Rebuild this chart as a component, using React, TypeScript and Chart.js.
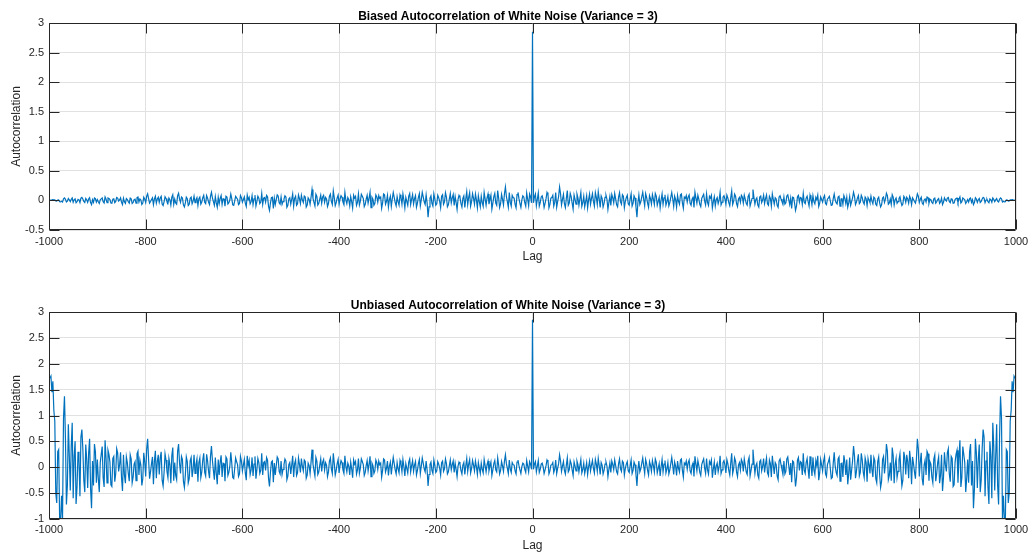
import React, { useEffect, useRef } from "react";
import { Chart, registerables } from "chart.js";

Chart.register(...registerables);

const FONT = "'Liberation Sans', Arial, Helvetica, sans-serif";
const TEXT = "#262626";
const LINE = "#0072BD";
const GRID = "#e1e1e1";

// Lags are sampled every 2; the autocorrelation is symmetric, so only lags >= 0 are listed.
const lagStep = 2;

// Unbiased autocorrelation, lags 0, 2, 4, ..., 998
const unbiasedHalf = [
  2.85, -0.04, 0.06, 0.11, -0.09, 0.02, 0.13, -0.10, -0.04, 0.06, 0.08, 0.01, -0.12, -0.05, 0.03, 0.14, 0.10, -0.13, -0.07, 0.04,
  0.05, 0.09, -0.10, -0.03, 0.14, -0.12, -0.02, 0.07, 0.24, 0.12, -0.08, 0.02, 0.11, -0.06, -0.13, 0.04, 0.18, -0.09, -0.05, 0.13,
  0.07, -0.05, -0.16, 0.10, 0.02, -0.07, 0.12, 0.05, -0.09, 0.03, 0.15, -0.11, -0.04, 0.08, -0.12, -0.02, 0.09, -0.14, 0.01, 0.12,
  -0.07, 0.04, 0.13, -0.02, -0.11, 0.15, 0.06, -0.08, 0.17, 0.03, -0.14, 0.09, 0.04, -0.13, -0.06, 0.06, 0.10, 0.02, -0.18, -0.04,
  0.08, -0.10, 0.12, 0.05, -0.05, 0.14, 0.03, -0.09, -0.13, 0.07, 0.16, -0.03, -0.08, 0.12, 0.09, -0.15, -0.02, 0.06, 0.11, -0.07,
  -0.10, 0.03, 0.14, -0.12, -0.06, 0.10, 0.05, -0.14, -0.36, -0.05, 0.12, -0.09, -0.03, 0.08, 0.18, 0.02, -0.12, 0.15, 0.07, -0.06,
  -0.15, 0.11, 0.04, -0.08, 0.13, 0.03, -0.09, 0.16, 0.10, -0.11, -0.02, 0.07, -0.17, 0.01, 0.15, -0.09, 0.06, 0.13, -0.11, -0.03,
  0.09, -0.13, -0.05, 0.07, 0.19, 0.04, -0.14, 0.10, 0.02, -0.16, 0.12, -0.02, -0.09, 0.14, 0.16, -0.06, -0.19, 0.08, 0.05, 0.12,
  -0.04, 0.09, 0.14, -0.07, -0.12, 0.03, 0.08, -0.18, 0.21, 0.06, -0.07, 0.13, 0.03, -0.10, -0.16, 0.05, 0.11, 0.16, -0.02, -0.12,
  0.17, -0.05, -0.13, 0.11, 0.06, 0.14, -0.20, -0.03, 0.10, -0.15, 0.02, 0.08, -0.09, 0.01, 0.22, -0.12, -0.05, 0.09, 0.13, 0.04,
  -0.11, 0.15, 0.07, -0.06, -0.15, 0.08, 0.27, -0.12, -0.03, 0.18, 0.12, -0.09, -0.18, 0.04, 0.09, -0.05, 0.15, 0.10, -0.08, 0.16,
  0.04, -0.09, -0.14, 0.12, 0.19, -0.17, -0.06, 0.06, 0.34, 0.10, -0.12, 0.03, 0.08, -0.15, -0.21, 0.11, 0.14, -0.07, 0.02, 0.17,
  -0.10, 0.06, 0.18, -0.11, -0.16, 0.14, 0.07, -0.19, 0.22, 0.04, -0.13, 0.09, 0.05, -0.17, -0.24, 0.12, 0.16, 0.05, -0.04, -0.14,
  0.12, -0.13, -0.08, 0.16, 0.20, 0.03, -0.15, 0.08, -0.29, 0.12, 0.10, -0.10, -0.37, -0.21, 0.14, 0.19, -0.06, 0.11, 0.09, -0.15,
  0.27, -0.06, -0.12, 0.09, 0.17, -0.04, -0.22, 0.21, 0.06, -0.17, 0.19, -0.05, -0.14, 0.13, 0.03, 0.22, -0.25, -0.11, 0.15, 0.04,
  -0.07, 0.12, 0.21, -0.13, -0.18, 0.05, 0.11, 0.18, -0.03, -0.22, -0.20, 0.08, 0.29, 0.02, -0.10, -0.16, 0.16, 0.20, -0.27, 0.07,
  0.08, -0.19, 0.23, 0.10, -0.15, 0.15, -0.33, -0.12, 0.19, -0.24, -0.06, 0.13, 0.41, 0.21, -0.21, -0.08, 0.12, 0.25, -0.17, -0.10,
  0.27, 0.14, -0.09, -0.20, 0.18, 0.09, -0.28, 0.16, 0.05, -0.12, 0.24, -0.04, -0.19, 0.19, 0.13, -0.22, -0.30, 0.11, 0.20, -0.15,
  -0.39, -0.27, 0.15, 0.21, -0.12, 0.08, 0.45, 0.31, -0.24, -0.16, 0.09, -0.26, 0.38, 0.22, -0.31, 0.05, 0.17, -0.20, -0.08, 0.14,
  0.26, -0.10, -0.36, -0.25, 0.30, 0.18, -0.14, 0.24, 0.11, -0.21, 0.32, 0.12, -0.33, 0.20, 0.07, -0.09, -0.22, 0.15, 0.55, 0.35,
  -0.18, 0.10, 0.28, -0.22, -0.35, 0.04, 0.14, -0.15, 0.31, 0.26, -0.26, 0.11, 0.06, -0.19, -0.30, 0.16, 0.24, -0.27, -0.12, 0.09,
  0.20, -0.31, -0.15, 0.24, -0.46, -0.20, 0.29, 0.05, -0.08, 0.28, 0.36, -0.12, -0.28, 0.21, 0.17, -0.37, -0.34, 0.10, 0.25, 0.33,
  -0.30, 0.18, 0.52, -0.38, -0.20, 0.40, 0.25, 0.09, -0.48, -0.22, 0.15, -0.30, 0.30, 0.45, -0.35, 0.12, -0.79, -0.42, 0.55, 0.28,
  -0.40, 0.15, 0.44, -0.48, -0.25, 0.36, 0.73, 0.58, -0.56, 0.12, 0.30, -0.38, -0.71, 0.50, 0.20, -0.60, 0.86, 0.41, -0.45, 0.22,
  0.83, -0.35, -0.72, 0.57, 1.37, 0.95, -0.98, -0.55, -1.05, -1.02, 0.34, 0.30, -0.69, -0.50, 0.89, 1.10, 1.66, 1.45, 1.76, 1.72,
];

// Biased autocorrelation, lags 0, 2, 4, ..., 998
const biasedHalf = [
  2.85, -0.040, 0.060, 0.109, -0.089, 0.020, 0.128, -0.099, -0.039, 0.059, 0.078, 0.010, -0.117, -0.049, 0.029, 0.136, 0.097, -0.126, -0.067, 0.038,
  0.048, 0.086, -0.096, -0.029, 0.133, -0.114, -0.019, 0.066, 0.227, 0.113, -0.075, 0.019, 0.103, -0.056, -0.121, 0.037, 0.167, -0.083, -0.046, 0.120,
  0.064, -0.046, -0.147, 0.091, 0.018, -0.064, 0.109, 0.045, -0.081, 0.027, 0.135, -0.099, -0.036, 0.072, -0.107, -0.018, 0.080, -0.124, 0.009, 0.106,
  -0.062, 0.035, 0.114, -0.017, -0.096, 0.131, 0.052, -0.069, 0.147, 0.026, -0.120, 0.077, 0.034, -0.111, -0.051, 0.051, 0.085, 0.017, -0.152, -0.034,
  0.067, -0.084, 0.100, 0.042, -0.042, 0.116, 0.025, -0.074, -0.107, 0.058, 0.131, -0.025, -0.065, 0.098, 0.073, -0.122, -0.016, 0.048, 0.088, -0.056,
  -0.080, 0.024, 0.111, -0.095, -0.048, 0.079, 0.039, -0.110, -0.282, -0.039, 0.094, -0.070, -0.023, 0.062, 0.139, 0.015, -0.092, 0.115, 0.053, -0.046,
  -0.114, 0.083, 0.030, -0.060, 0.098, 0.023, -0.067, 0.119, 0.074, -0.082, -0.015, 0.052, -0.125, 0.007, 0.110, -0.066, 0.044, 0.094, -0.080, -0.022,
  0.065, -0.093, -0.036, 0.050, 0.135, 0.028, -0.099, 0.071, 0.014, -0.112, 0.084, -0.014, -0.063, 0.097, 0.111, -0.041, -0.131, 0.055, 0.034, 0.082,
  -0.027, 0.061, 0.095, -0.047, -0.081, 0.020, 0.053, -0.120, 0.139, 0.040, -0.046, 0.086, 0.020, -0.065, -0.104, 0.033, 0.071, 0.103, -0.013, -0.077,
  0.109, -0.032, -0.083, 0.070, 0.038, 0.088, -0.126, -0.019, 0.062, -0.093, 0.012, 0.049, -0.055, 0.006, 0.135, -0.073, -0.030, 0.055, 0.079, 0.024,
  -0.066, 0.090, 0.042, -0.036, -0.089, 0.047, 0.159, -0.070, -0.018, 0.105, 0.070, -0.052, -0.104, 0.023, 0.051, -0.029, 0.085, 0.057, -0.045, 0.090,
  0.022, -0.050, -0.078, 0.066, 0.105, -0.094, -0.033, 0.033, 0.185, 0.054, -0.065, 0.016, 0.043, -0.080, -0.112, 0.058, 0.074, -0.037, 0.010, 0.089,
  -0.052, 0.031, 0.093, -0.057, -0.082, 0.071, 0.036, -0.096, 0.111, 0.020, -0.065, 0.045, 0.025, -0.084, -0.118, 0.059, 0.078, 0.024, -0.019, -0.067,
  0.058, -0.062, -0.038, 0.076, 0.094, 0.014, -0.070, 0.037, -0.135, 0.055, 0.046, -0.046, -0.169, -0.095, 0.063, 0.086, -0.027, 0.049, 0.040, -0.066,
  0.119, -0.026, -0.052, 0.039, 0.073, -0.017, -0.094, 0.089, 0.025, -0.072, 0.080, -0.021, -0.058, 0.054, 0.012, 0.090, -0.102, -0.045, 0.061, 0.016,
  -0.028, 0.048, 0.083, -0.051, -0.071, 0.020, 0.043, 0.069, -0.012, -0.084, -0.076, 0.030, 0.109, 0.007, -0.037, -0.059, 0.059, 0.073, -0.098, 0.025,
  0.029, -0.068, 0.082, 0.035, -0.053, 0.053, -0.115, -0.042, 0.065, -0.082, -0.020, 0.044, 0.138, 0.070, -0.070, -0.026, 0.039, 0.082, -0.055, -0.032,
  0.086, 0.045, -0.028, -0.063, 0.056, 0.028, -0.086, 0.049, 0.015, -0.036, 0.072, -0.012, -0.056, 0.056, 0.038, -0.064, -0.086, 0.031, 0.057, -0.042,
  -0.109, -0.075, 0.041, 0.058, -0.033, 0.022, 0.121, 0.082, -0.063, -0.042, 0.023, -0.067, 0.097, 0.056, -0.078, 0.013, 0.042, -0.049, -0.020, 0.034,
  0.062, -0.024, -0.085, -0.059, 0.070, 0.041, -0.032, 0.054, 0.025, -0.047, 0.070, 0.026, -0.071, 0.043, 0.015, -0.019, -0.046, 0.031, 0.112, 0.071,
  -0.036, 0.020, 0.055, -0.043, -0.067, 0.008, 0.026, -0.028, 0.057, 0.047, -0.047, 0.020, 0.011, -0.033, -0.052, 0.027, 0.040, -0.045, -0.020, 0.015,
  0.032, -0.049, -0.023, 0.037, -0.070, -0.030, 0.043, 0.007, -0.012, 0.040, 0.050, -0.017, -0.038, 0.028, 0.022, -0.048, -0.044, 0.013, 0.031, 0.040,
  -0.036, 0.021, 0.060, -0.043, -0.022, 0.044, 0.027, 0.010, -0.050, -0.022, 0.015, -0.029, 0.029, 0.042, -0.032, 0.011, -0.070, -0.036, 0.046, 0.023,
  -0.032, 0.012, 0.033, -0.036, -0.018, 0.025, 0.050, 0.038, -0.036, 0.007, 0.018, -0.022, -0.040, 0.027, 0.010, -0.030, 0.041, 0.019, -0.020, 0.009,
  0.033, -0.013, -0.026, 0.019, 0.044, 0.029, -0.027, -0.014, -0.025, -0.022, 0.007, 0.005, -0.011, -0.007, 0.011, 0.011, 0.013, 0.009, 0.007, 0.003,
];

const xTickValues = [-1000, -800, -600, -400, -200, 0, 200, 400, 600, 800, 1000];
const biasedYTicks = [-0.5, 0, 0.5, 1, 1.5, 2, 2.5, 3];
const unbiasedYTicks = [-1, -0.5, 0, 0.5, 1, 1.5, 2, 2.5, 3];
const biasedTitle = "Biased Autocorrelation of White Noise (Variance = 3)";
const unbiasedTitle = "Unbiased Autocorrelation of White Noise (Variance = 3)";
const xLabel = "Lag";
const yLabel = "Autocorrelation";

function toPoints(half: number[]) {
  const pos = half.map((v, i) => ({ x: i * lagStep, y: v }));
  const neg = half
    .slice(1)
    .map((v, i) => ({ x: -(i + 1) * lagStep, y: v }))
    .reverse();
  return [...neg, ...pos];
}

const boxPlugin = {
  id: "matlabBox",
  afterDatasetsDraw(chart: any) {
    const { ctx, chartArea: a, scales } = chart;
    const L = Math.round(a.left) + 0.5;
    const R = Math.round(a.right) - 0.5;
    const T = Math.round(a.top) + 0.5;
    const B = Math.round(a.bottom) - 0.5;
    const tl = 10;
    ctx.save();
    ctx.strokeStyle = TEXT;
    ctx.lineWidth = 1;
    ctx.beginPath();
    ctx.rect(L, T, R - L, B - T);
    scales.x.ticks.forEach((t: any) => {
      const px = Math.round(scales.x.getPixelForValue(t.value)) + 0.5;
      ctx.moveTo(px, B);
      ctx.lineTo(px, B - tl);
      ctx.moveTo(px, T);
      ctx.lineTo(px, T + tl);
    });
    scales.y.ticks.forEach((t: any) => {
      const py = Math.round(scales.y.getPixelForValue(t.value)) + 0.5;
      ctx.moveTo(L, py);
      ctx.lineTo(L + tl, py);
      ctx.moveTo(R, py);
      ctx.lineTo(R - tl, py);
    });
    ctx.stroke();
    ctx.restore();
  },
};

type Layout = {
  titlePadTop: number;
  titlePadBottom: number;
  xHeight: number;
  xTickPad: number;
  xTitlePadBottom: number;
};

function buildConfig(half: number[], yTicks: number[], title: string, lay: Layout): any {
  return {
    type: "line",
    data: {
      datasets: [
        {
          data: toPoints(half),
          borderColor: LINE,
          borderWidth: 1.2,
          pointRadius: 0,
          tension: 0,
          fill: false,
        },
      ],
    },
    plugins: [boxPlugin],
    options: {
      responsive: false,
      animation: false,
      devicePixelRatio: 1,
      layout: { padding: { left: 0, right: 15, top: 0, bottom: 0 } },
      plugins: {
        legend: { display: false },
        tooltip: { enabled: false },
        title: {
          display: true,
          text: title,
          color: "#000",
          font: { family: FONT, size: 12, weight: "bold", lineHeight: 1 },
          padding: { top: lay.titlePadTop, bottom: lay.titlePadBottom },
        },
      },
      scales: {
        x: {
          type: "linear",
          min: xTickValues[0],
          max: xTickValues[xTickValues.length - 1],
          afterBuildTicks: (s: any) => {
            s.ticks = xTickValues.map((value) => ({ value }));
          },
          afterFit: (s: any) => {
            s.height = lay.xHeight;
            s.paddingLeft = 0;
            s.paddingRight = 0;
          },
          ticks: {
            color: TEXT,
            font: { family: FONT, size: 11 },
            padding: lay.xTickPad,
            maxRotation: 0,
            autoSkip: false,
            callback: (v: any) => String(v),
          },
          grid: { color: GRID, lineWidth: 1, drawTicks: false },
          border: { display: false },
          title: {
            display: true,
            text: xLabel,
            color: TEXT,
            font: { family: FONT, size: 12 },
            padding: { top: 0, bottom: lay.xTitlePadBottom },
          },
        },
        y: {
          type: "linear",
          min: yTicks[0],
          max: yTicks[yTicks.length - 1],
          afterBuildTicks: (s: any) => {
            s.ticks = yTicks.map((value) => ({ value }));
          },
          afterFit: (s: any) => {
            s.width = 49;
            s.paddingTop = 0;
            s.paddingBottom = 0;
          },
          ticks: {
            color: TEXT,
            font: { family: FONT, size: 11 },
            padding: 5,
            autoSkip: false,
            callback: (v: any) => String(v),
          },
          grid: { color: GRID, lineWidth: 1, drawTicks: false },
          border: { display: false },
          title: {
            display: true,
            text: yLabel,
            color: TEXT,
            font: { family: FONT, size: 12 },
            padding: { top: 9, bottom: 0 },
          },
        },
      },
    },
  };
}

function Panel(props: { half: number[]; yTicks: number[]; title: string; top: number; height: number; lay: Layout }) {
  const ref = useRef<HTMLCanvasElement | null>(null);
  useEffect(() => {
    if (!ref.current) return;
    const chart = new Chart(ref.current, buildConfig(props.half, props.yTicks, props.title, props.lay));
    return () => chart.destroy();
  }, []);
  return (
    <canvas
      ref={ref}
      width={1031}
      height={props.height}
      style={{ position: "absolute", left: 0, top: props.top, width: 1031, height: props.height }}
    />
  );
}

export default function App() {
  return (
    <div style={{ position: "fixed", left: 0, top: 0, width: 1031, height: 556, background: "#fff", overflow: "hidden" }}>
      <Panel
        half={biasedHalf}
        yTicks={biasedYTicks}
        title={biasedTitle}
        top={0}
        height={270}
        lay={{ titlePadTop: 11, titlePadBottom: 0, xHeight: 40, xTickPad: 5.2, xTitlePadBottom: 6.3 }}
      />
      <Panel
        half={unbiasedHalf}
        yTicks={unbiasedYTicks}
        title={unbiasedTitle}
        top={288}
        height={268}
        lay={{ titlePadTop: 11.5, titlePadBottom: 0.5, xHeight: 37, xTickPad: 4.3, xTitlePadBottom: 3.3 }}
      />
    </div>
  );
}
